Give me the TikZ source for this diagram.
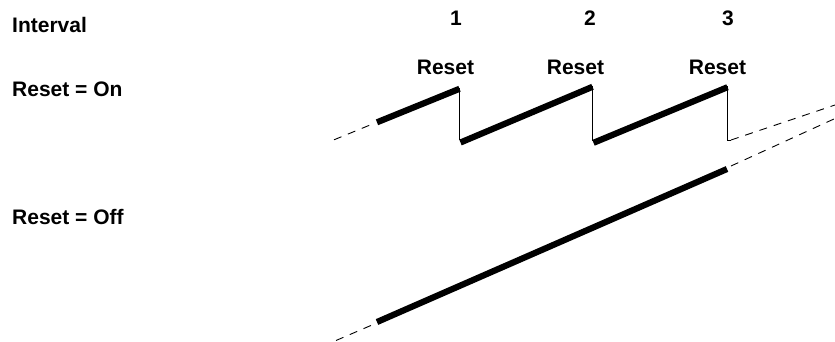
\documentclass[tikz,border=0pt]{standalone}
\usepackage{fontspec}
\setmainfont{Liberation Sans}
\begin{document}
\begin{tikzpicture}[x=1pt,y=-1pt,
  lbl/.style={font=\fontsize{21}{25}\selectfont\bfseries, inner sep=0pt},
  thickseg/.style={line width=6.2pt, line cap=butt},
  thinseg/.style={line width=0.9pt},
  dashseg/.style={line width=0.9pt, dash pattern=on 8pt off 7pt}]
\useasboundingbox (0,0) rectangle (835,341);
% labels
\node[lbl, anchor=base west] (interval) at (12,32.3) {Interval};
\node[lbl, anchor=base west] (on) at (12,96.7) {Reset = On};
\node[lbl, anchor=base west] (off) at (12,224) {Reset = Off};
\node[lbl, anchor=base] (n1) at (456,25) {1};
\node[lbl, anchor=base] (n2) at (590,25) {2};
\node[lbl, anchor=base] (n3) at (728,25) {3};
\node[lbl, anchor=base] (r1) at (445.5,74) {Reset};
\node[lbl, anchor=base] (r2) at (575.5,74) {Reset};
\node[lbl, anchor=base] (r3) at (717.5,74) {Reset};
% Reset = On sawtooth
\coordinate (a0) at (334,139.8);
\coordinate (a1) at (372,124.2);
\coordinate (a2) at (377,122.3);
\coordinate (a3) at (459.5,88.8);
\coordinate (v1t) at (459,87.5);
\coordinate (v1b) at (459,140);
\coordinate (b1) at (460.5,142.5);
\coordinate (b2) at (592.5,86.8);
\coordinate (v2t) at (592,85.5);
\coordinate (v2b) at (592,140.5);
\coordinate (c1) at (593.5,142.8);
\coordinate (c2) at (727.5,87.2);
\coordinate (v3t) at (727,86);
\coordinate (v3b) at (727,140);
\coordinate (v3r) at (731,140);
\coordinate (e1) at (835,105);
\draw[dashseg] (a0) -- (a1);
\draw[thickseg] (a2) -- (a3);
\draw[thinseg] (v1t) -- (v1b);
\draw[thickseg] (b1) -- (b2);
\draw[thinseg] (v2t) -- (v2b);
\draw[thickseg] (c1) -- (c2);
\draw[thinseg] (v3t) -- (v3b) -- (v3r);
\draw[dashseg] (v3r) -- (e1);
% Reset = Off straight line
\coordinate (f0) at (336,340.5);
\coordinate (f1) at (372,325);
\coordinate (f2) at (377,322);
\coordinate (f3) at (727,169);
\coordinate (f4) at (731,166);
\coordinate (f5) at (835,118.5);
\draw[dashseg] (f0) -- (f1);
\draw[thickseg] (f2) -- (f3);
\draw[dashseg] (f4) -- (f5);
\end{tikzpicture}
\end{document}
